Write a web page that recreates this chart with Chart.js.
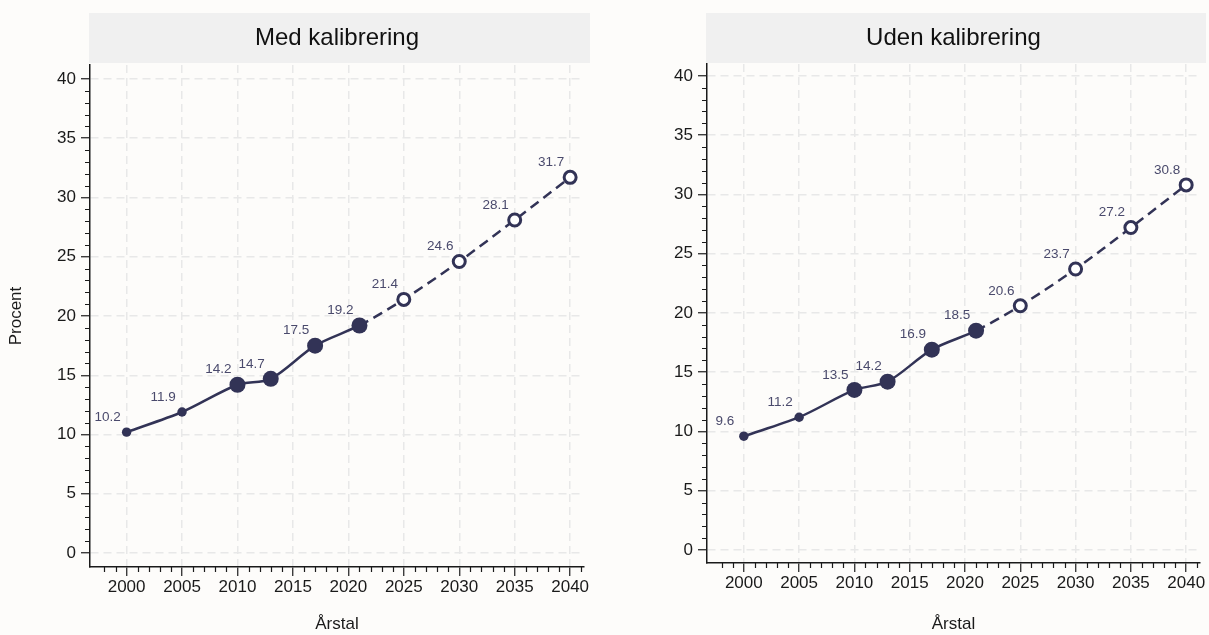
<!DOCTYPE html>
<html lang="da">
<head>
<meta charset="UTF-8">
<title>Med og uden kalibrering</title>
<script src="https://cdn.jsdelivr.net/npm/chart.js"></script>
<style>
  html, body { margin: 0; padding: 0; background: #fdfcfa; }
  .panel { position: absolute; top: 0; height: 635px; }
  #venstre { left: 0; width: 600px; }
  #hoejre { left: 600px; width: 609px; }
  canvas { display: block; }
</style>
</head>
<body>
<div class="panel" id="venstre"><canvas id="medKal" width="600" height="635"></canvas></div>
<div class="panel" id="hoejre"><canvas id="udenKal" width="609" height="635"></canvas></div>
<script>
// data
const aarstal = [2000, 2005, 2010, 2013, 2017, 2021, 2025, 2030, 2035, 2040];
const medKalibrering = [10.2, 11.9, 14.2, 14.7, 17.5, 19.2, 21.4, 24.6, 28.1, 31.7];
const udenKalibrering = [9.6, 11.2, 13.5, 14.2, 16.9, 18.5, 20.6, 23.7, 27.2, 30.8];
// lille = tidlige opgørelser, stor = observeret, frem = fremskrivning
const punktType = ['lille', 'lille', 'stor', 'stor', 'stor', 'stor', 'frem', 'frem', 'frem', 'frem'];
const xTicks = [2000, 2005, 2010, 2015, 2020, 2025, 2030, 2035, 2040];
const yTicks = [0, 5, 10, 15, 20, 25, 30, 35, 40];

const FARVE = '#323356';
const LABELFARVE = '#4a4a6c';
const AKSEFARVE = '#1a1a1a';
Chart.defaults.font.family = "'Liberation Sans', Arial, sans-serif";

// grå overskriftsboks
const overskriftBoks = {
    id: 'overskriftBoks',
    beforeDraw(chart) {
        const ca = chart.chartArea;
        const ctx = chart.ctx;
        ctx.save();
        ctx.fillStyle = '#f0f0f0';
        ctx.fillRect(ca.left - 1, 13, ca.right - ca.left + 7, 50);
        ctx.restore();
    }
};

// små mellemstreger på akserne
const smaaStreger = {
    id: 'smaaStreger',
    afterDraw(chart) {
        const ctx = chart.ctx;
        const sx = chart.scales.x, sy = chart.scales.y;
        const ca = chart.chartArea;
        ctx.save();
        ctx.strokeStyle = AKSEFARVE;
        ctx.lineWidth = 1.2;
        ctx.beginPath();
        for (let a = 1998; a <= 2041; a++) {
            if (a % 5 === 0) continue;
            const px = Math.round(sx.getPixelForValue(a)) + 0.5;
            ctx.moveTo(px, ca.bottom);
            ctx.lineTo(px, ca.bottom + 5);
        }
        for (let v = 1; v <= 39; v++) {
            if (v % 5 === 0) continue;
            const py = Math.round(sy.getPixelForValue(v)) + 0.5;
            ctx.moveTo(ca.left - 5, py);
            ctx.lineTo(ca.left, py);
        }
        ctx.stroke();
        ctx.restore();
    }
};

// værdier ved punkterne
const vaerdiLabels = {
    id: 'vaerdiLabels',
    afterDatasetsDraw(chart) {
        const ctx = chart.ctx;
        const meta = chart.getDatasetMeta(0);
        const data = chart.data.datasets[0].data;
        ctx.save();
        ctx.font = "13.5px 'Liberation Sans', Arial, sans-serif";
        ctx.fillStyle = LABELFARVE;
        ctx.textAlign = 'center';
        ctx.textBaseline = 'middle';
        meta.data.forEach((pt, i) => {
            ctx.fillText(data[i].y.toFixed(1), pt.x - 19, pt.y - 15);
        });
        ctx.restore();
    }
};

function lavDiagram(id, titel, vaerdier, o) {
    return new Chart(document.getElementById(id), {
        type: 'line',
        data: {
            datasets: [{
                data: aarstal.map((a, i) => ({ x: a, y: vaerdier[i] })),
                borderColor: FARVE,
                borderWidth: 2.5,
                tension: 0.3,
                segment: {
                    borderDash: c => punktType[c.p1DataIndex] === 'frem' ? [10, 6] : undefined
                },
                pointRadius: c => ({ lille: 4.7, stor: 8, frem: 6 })[punktType[c.dataIndex]],
                pointBackgroundColor: c => punktType[c.dataIndex] === 'frem' ? '#ffffff' : FARVE,
                pointBorderColor: FARVE,
                pointBorderWidth: c => punktType[c.dataIndex] === 'frem' ? 3 : 0
            }]
        },
        options: {
            responsive: false,
            animation: false,
            layout: { padding: { top: 0, right: o.hoejrePad, bottom: 0, left: 0 } },
            plugins: {
                legend: { display: false },
                tooltip: { enabled: false },
                title: {
                    display: true,
                    text: titel,
                    fullSize: false,
                    color: '#111111',
                    font: { size: 24, weight: 'normal' },
                    padding: { top: 23.5, bottom: o.titelBund }
                }
            },
            scales: {
                x: {
                    type: 'linear',
                    min: o.xMin,
                    max: o.xMax,
                    afterBuildTicks: s => { s.ticks = xTicks.map(v => ({ value: v })); },
                    afterFit: s => { s.height = o.xHoejde; },
                    ticks: { color: AKSEFARVE, font: { size: 17 }, padding: 1, maxRotation: 0, callback: v => String(v) },
                    grid: { color: '#e8e8e8', lineWidth: 1.5, tickLength: 9, tickColor: AKSEFARVE, tickWidth: 1.2 },
                    border: { color: AKSEFARVE, width: 1.5, dash: [8, 5] },
                    title: { display: true, text: 'Årstal', color: AKSEFARVE, font: { size: 17 }, padding: { top: 0, bottom: 0 } }
                },
                y: {
                    type: 'linear',
                    min: o.yMin,
                    max: o.yMax,
                    afterBuildTicks: s => { s.ticks = yTicks.map(v => ({ value: v })); },
                    afterFit: s => { s.width = o.yBredde; },
                    ticks: { color: AKSEFARVE, font: { size: 17 }, padding: 5, callback: v => String(v) },
                    grid: { color: '#e8e8e8', lineWidth: 1.5, tickLength: 9, tickColor: AKSEFARVE, tickWidth: 1.2 },
                    border: { color: AKSEFARVE, width: 1.5, dash: [8, 5] },
                    title: { display: o.yTitel, text: 'Procent', color: AKSEFARVE, font: { size: 17 }, padding: { top: 6, bottom: 0 } }
                }
            }
        },
        plugins: [overskriftBoks, smaaStreger, vaerdiLabels]
    });
}

lavDiagram('medKal', 'Med kalibrering', medKalibrering, {
    xMin: 1996.7, xMax: 2041.25, yMin: -1.18, yMax: 41.18,
    yBredde: 90, xHoejde: 68, hoejrePad: 16, titelBund: 12.7, yTitel: true
});
lavDiagram('udenKal', 'Uden kalibrering', udenKalibrering, {
    xMin: 1996.67, xMax: 2041.25, yMin: -1.1, yMax: 41.0,
    yBredde: 107, xHoejde: 72, hoejrePad: 7, titelBund: 11.7, yTitel: false
});
</script>
</body>
</html>
